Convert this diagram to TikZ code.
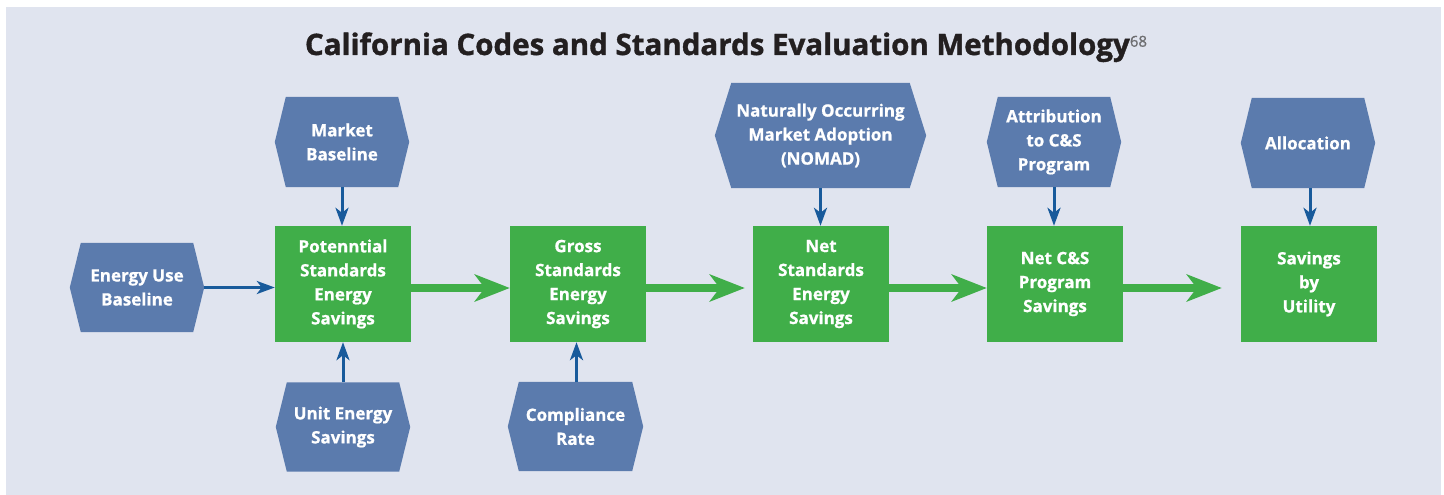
\documentclass[tikz,border=0pt]{standalone}
\usepackage{fontspec}
\setmainfont{Open Sans}
\usetikzlibrary{arrows.meta,backgrounds,calc}
\definecolor{bgc}{RGB}{224,228,239}
\definecolor{hexc}{RGB}{91,123,173}
\definecolor{grn}{RGB}{64,174,73}
\definecolor{arrb}{RGB}{24,90,155}
\definecolor{ttl}{RGB}{35,31,32}
\definecolor{supc}{RGB}{110,110,113}
\newcommand\hexfill[2]{% node name, indent
  \fill[hexc] ($(#1.north west)+(#2,0)$) -- ($(#1.north east)+(-#2,0)$) -- (#1.east)
    -- ($(#1.south east)+(-#2,0)$) -- ($(#1.south west)+(#2,0)$) -- (#1.west) -- cycle;}
\begin{document}
\begin{tikzpicture}[x=1pt,y=-1pt,
  lbl/.style={text=white,font=\bfseries\addfontfeatures{FakeBold=0.8}\fontsize{17}{24}\selectfont,align=center,inner sep=0pt},
  greenbox/.style={lbl,fill=grn,minimum width=136pt,minimum height=116pt},
  hexnode/.style={lbl,minimum width=134pt,minimum height=90pt},
  bigarrow/.style={draw=grn,line width=7.5pt,-{Stealth[length=35pt,width=27pt,inset=10pt]}},
  smallarrow/.style={draw=arrb,line width=3pt,-{Stealth[length=18pt,width=13pt,inset=5pt]}},
]
\useasboundingbox (0,0) rectangle (1444,495);

% title
\node[anchor=base,text=ttl,font=\bfseries\addfontfeatures{FakeBold=1.2}\fontsize{29.5}{36}\selectfont,inner sep=0pt] (title) at (726,55)
  {California Codes and Standards Evaluation Methodology\textcolor{supc}{\mdseries\fontsize{15}{18}\selectfont\raisebox{8.3pt}{68}}};

% green boxes
\node[greenbox] (pot)   at (343,284) {Potenntial\\Standards\\Energy\\Savings};
\node[greenbox] (gross) at (578,284) {Gross\\Standards\\Energy\\Savings};
\node[greenbox] (net)   at (821,284) {Net\\Standards\\Energy\\Savings};
\node[greenbox] (netcs) at (1055,284) {Net C\&S\\Program\\Savings};
\node[greenbox] (util)  at (1309,284) {Savings\\by\\Utility};

% hexagon labels
\node[hexnode] (mkt)   at (342,142)   {Market\\Baseline};
\node[hexnode,minimum height=89pt] (eu) at (137,287.5) {Energy Use\\Baseline};
\node[hexnode,minimum height=89pt] (unit) at (343,427) {Unit Energy\\Savings};
\node[hexnode,minimum width=135pt,minimum height=89pt] (comp) at (575.5,426.5) {Compliance\\Rate};
\node[hexnode,minimum width=211pt,minimum height=105pt] (nomad) at (820.5,135.5) {Naturally Occurring\\Market Adoption\\(NOMAD)};
\node[hexnode] (attr)  at (1054,142)  {Attribution\\to C\&S\\Program};
\node[hexnode] (alloc) at (1308,143)  {Allocation};

\begin{scope}[on background layer]
  \fill[white] (0,0) rectangle (1444,495);
  \fill[bgc] (6,7) rectangle (1441,495);
  \hexfill{mkt}{11}
  \hexfill{eu}{11}
  \hexfill{unit}{11}
  \hexfill{comp}{11}
  \hexfill{nomad}{16.5}
  \hexfill{attr}{11}
  \hexfill{alloc}{11}
\end{scope}

% green flow arrows
\draw[bigarrow] ([yshift=-4pt]pot.east) -- ([yshift=-4pt]gross.west);
\draw[bigarrow] ([yshift=-4pt]gross.east) -- ([xshift=-8pt,yshift=-4pt]net.west);
\draw[bigarrow] ([yshift=-4pt]net.east) -- ([yshift=-4pt]netcs.west);
\draw[bigarrow] ([yshift=-4pt]netcs.east) -- ([xshift=-19pt,yshift=-4pt]util.west);

% blue input arrows
\draw[smallarrow] (mkt.south) -- (mkt.south |- pot.north);
\draw[smallarrow] (eu.east) -- (eu.east -| pot.west);
\draw[smallarrow] (unit.north) -- (unit.north |- pot.south);
\draw[smallarrow] (comp.north) ++(1,0) coordinate (compt) -- (compt |- gross.south);
\draw[smallarrow] (nomad.south) -- (nomad.south |- net.north);
\draw[smallarrow] (attr.south) -- (attr.south |- netcs.north);
\draw[smallarrow] ([xshift=2pt]alloc.south) -- ([xshift=2pt]alloc.south |- util.north);
\end{tikzpicture}
\end{document}
